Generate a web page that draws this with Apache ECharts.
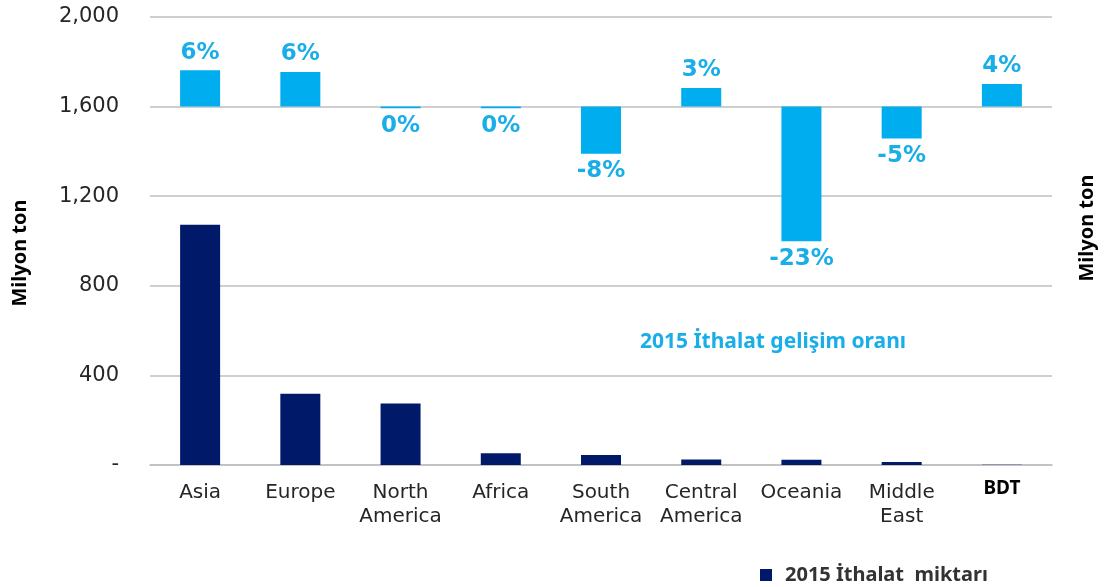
<!DOCTYPE html>
<html>
<head>
<meta charset="utf-8">
<script src="https://cdn.jsdelivr.net/npm/echarts@6/dist/echarts.min.js"></script>
<style>
	html, body { margin: 0; padding: 0; background: #fff; }
	#chart { width: 1105px; height: 587px; }
</style>
</head>
<body>
<div id="chart"></div>
<script>
'use strict';
// bölgeler
var categories = ['Asia', 'Europe', 'North\nAmerica', 'Africa', 'South\nAmerica', 'Central\nAmerica', 'Oceania', 'Middle\nEast', 'BDT'];
// 2015 ithalat miktarı (milyon ton)
var importVolume = [1072, 318, 274, 52, 45, 24, 23, 13, 1];
// 2015 ithalat gelişim oranı (%)
var growthPct = [6, 6, 0, 0, -8, 3, -23, -5, 4];
// gelişim çubuklarının 1,600 çizgisine göre boyu (milyon ton ölçeğinde)
var growthBar = [162, 155, -7, -7, -211, 83, -601, -142, 101];
var yTicks = [0, 400, 800, 1200, 1600, 2000];

var lightBlue = '#00adee';
var navy = '#001969';

var myChart = echarts.init(document.getElementById('chart'));

var option = {
	animation: false,
	grid: { left: 150, right: 53, top: 17, bottom: 122 },
	legend: {
		left: 755,
		top: 560,
		icon: 'rect',
		itemWidth: 12,
		itemHeight: 12,
		itemGap: 10,
		data: ['2015 İthalat  miktarı'],
		textStyle: { fontFamily: 'Noto Sans', fontWeight: 'bold', fontSize: 20, color: '#333', padding: [0, 0, 0, 8] }
	},
	xAxis: {
		type: 'category',
		data: categories,
		axisLine: { show: true, lineStyle: { color: '#bfbfbf', width: 1.5 } },
		axisTick: { show: false },
		axisLabel: {
			margin: 16,
			fontFamily: 'DejaVu Sans',
			fontSize: 20,
			lineHeight: 24,
			color: '#262626',
			interval: 0,
			formatter: function (v) {
				return v === 'BDT' ? '{b|BDT}' : v;
			},
			rich: {
				b: { fontFamily: 'Noto Sans', fontWeight: 'bold', fontSize: 19, color: '#000', padding: [0, 0, 8, 0] }
			}
		}
	},
	yAxis: [{
		type: 'value',
		min: yTicks[0],
		max: yTicks[yTicks.length - 1],
		interval: 400,
		axisLine: { show: false },
		axisTick: { show: false },
		splitLine: { lineStyle: { color: '#bfbfbf', width: 1.5 } },
		axisLabel: {
			margin: 31,
			fontFamily: 'DejaVu Sans',
			fontSize: 21,
			color: '#262626',
			formatter: function (v) {
				return v === 0 ? '-' : v.toLocaleString('en-US');
			}
		}
	}, {
		type: 'value',
		min: -1600,
		max: 400,
		show: false,
		splitLine: { show: false }
	}],
	graphic: [{
		type: 'text',
		x: 773,
		y: 342,
		style: {
			text: '2015 İthalat gelişim oranı',
			fill: '#1aaee8',
			font: 'bold 21px "Noto Sans"',
			align: 'center',
			verticalAlign: 'middle'
		}
	}, {
		type: 'text',
		x: 20,
		y: 253,
		rotation: Math.PI / 2,
		style: {
			text: 'Milyon ton',
			fill: '#000',
			font: 'bold 20px "Noto Sans"',
			align: 'center',
			verticalAlign: 'middle'
		}
	}, {
		type: 'text',
		x: 1087,
		y: 228,
		rotation: Math.PI / 2,
		style: {
			text: 'Milyon ton',
			fill: '#000',
			font: 'bold 20px "Noto Sans"',
			align: 'center',
			verticalAlign: 'middle'
		}
	}],
	series: [{
		name: '2015 İthalat  miktarı',
		type: 'bar',
		barWidth: 40,
		barGap: '-100%',
		itemStyle: { color: navy },
		data: importVolume
	}, {
		name: '2015 İthalat gelişim oranı',
		type: 'bar',
		yAxisIndex: 1,
		barWidth: 40,
		barGap: '-100%',
		itemStyle: { color: lightBlue },
		data: growthBar.map(function (v, i) {
			return {
				value: v,
				label: {
					show: true,
					position: growthPct[i] > 0 ? 'top' : 'bottom',
					distance: 6,
					formatter: growthPct[i] + '%',
					fontFamily: 'DejaVu Sans',
					fontWeight: 'bold',
					fontSize: 23,
					color: '#1aaee8'
				}
			};
		})
	}]
};
myChart.setOption(option);
</script>
</body>
</html>
